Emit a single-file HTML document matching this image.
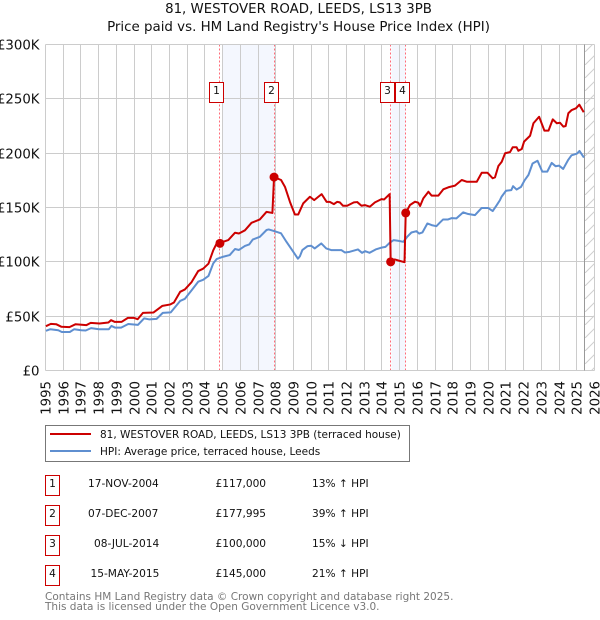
<!DOCTYPE html>
<html>
<head>
<meta charset="utf-8">
<title>81, WESTOVER ROAD, LEEDS, LS13 3PB</title>
<style>
html,body{margin:0;padding:0;background:#fff;width:600px;height:620px;overflow:hidden}
svg{display:block}
text{font-family:"DejaVu Sans","Liberation Sans",sans-serif;fill:#111}
</style>
</head>
<body>
<svg id="chart" xmlns="http://www.w3.org/2000/svg" width="600" height="620" viewBox="0 0 600 620">
  <defs>
    <pattern id="hatch" patternUnits="userSpaceOnUse" width="13" height="13">
      <path d="M-1 14L14 -1" stroke="#cfcfcf" stroke-width="1" fill="none"/>
    </pattern>
    <clipPath id="plot-clip"><rect x="45" y="44" width="550" height="327"/></clipPath>
  </defs>
  <text x="298.5" y="13" font-size="13.35" text-anchor="middle">81, WESTOVER ROAD, LEEDS, LS13 3PB</text>
  <text x="298.5" y="31" font-size="13.4" text-anchor="middle">Price paid vs. HM Land Registry's House Price Index (HPI)</text>
  <g id="bands"></g>
  <g id="grid"></g>
  <g id="xticks"></g>
  <g id="yticks"></g>
  <rect x="584.5" y="44.5" width="10" height="326" fill="url(#hatch)"/>
  <line x1="584.5" x2="584.5" y1="44.5" y2="370.5" stroke="#999" stroke-width="1"/>
  <g id="series" clip-path="url(#plot-clip)"></g>
  <g id="sales"></g>

  <g>
    <rect x="45.5" y="425.5" width="364" height="36" fill="#fff" stroke="#777" stroke-width="1"/>
    <line x1="50" x2="91" y1="434" y2="434" stroke="#cc0000" stroke-width="2"/>
    <text x="100" y="438" font-size="10.5">81, WESTOVER ROAD, LEEDS, LS13 3PB (terraced house)</text>
    <line x1="50" x2="91" y1="451" y2="451" stroke="#5f8fd0" stroke-width="2"/>
    <text x="100" y="455" font-size="10.5">HPI: Average price, terraced house, Leeds</text>
  </g>

  <g>
    <g>
      <rect x="45.5" y="475.5" width="14" height="20" fill="#fff" stroke="#cc0000"/>
      <text x="52.5" y="487" font-size="10.6" text-anchor="middle">1</text>
      <text x="88" y="487" font-size="10.6">17-NOV-2004</text>
      <text x="215.5" y="487" font-size="10.6">£117,000</text>
      <text x="312" y="487" font-size="10.6">13% ↑ HPI</text>
    </g>
    <g>
      <rect x="45.5" y="505.5" width="14" height="20" fill="#fff" stroke="#cc0000"/>
      <text x="52.5" y="517" font-size="10.6" text-anchor="middle">2</text>
      <text x="88" y="517" font-size="10.6">07-DEC-2007</text>
      <text x="215.5" y="517" font-size="10.6">£177,995</text>
      <text x="312" y="517" font-size="10.6">39% ↑ HPI</text>
    </g>
    <g>
      <rect x="45.5" y="535.5" width="14" height="20" fill="#fff" stroke="#cc0000"/>
      <text x="52.5" y="547" font-size="10.6" text-anchor="middle">3</text>
      <text x="94" y="547" font-size="10.6">08-JUL-2014</text>
      <text x="215.5" y="547" font-size="10.6">£100,000</text>
      <text x="312" y="547" font-size="10.6">15% ↓ HPI</text>
    </g>
    <g>
      <rect x="45.5" y="565.5" width="14" height="20" fill="#fff" stroke="#cc0000"/>
      <text x="52.5" y="577" font-size="10.6" text-anchor="middle">4</text>
      <text x="90.5" y="577" font-size="10.6">15-MAY-2015</text>
      <text x="215.5" y="577" font-size="10.6">£145,000</text>
      <text x="312" y="577" font-size="10.6">21% ↑ HPI</text>
    </g>
  </g>

  <text x="45" y="600" font-size="10.5" style="fill:#777">Contains HM Land Registry data © Crown copyright and database right 2025.</text>
  <text x="45" y="610" font-size="10.5" style="fill:#777">This data is licensed under the Open Government Licence v3.0.</text>
</svg>
<script>
const xTickYears = [1995,1996,1997,1998,1999,2000,2001,2002,2003,2004,2005,2006,2007,2008,2009,2010,2011,2012,2013,2014,2015,2016,2017,2018,2019,2020,2021,2022,2023,2024,2025,2026];
const yTickValues = [0,50,100,150,200,250,300];
const yTickLabels = ["£0","£50K","£100K","£150K","£200K","£250K","£300K"];

const hpiYears = [1995.05,1995.3,1995.75,1995.95,1996.4,1996.65,1997.05,1997.3,1997.6,1998.05,1998.6,1998.75,1998.95,1999.3,1999.7,2000.25,2000.6,2000.9,2001.3,2001.65,2002.1,2002.63,2002.9,2003.28,2003.65,2003.93,2004.23,2004.5,2004.69,2005.06,2005.43,2005.73,2005.95,2006.29,2006.53,2006.73,2007.13,2007.51,2007.63,2007.96,2008.33,2008.63,2009.03,2009.28,2009.39,2009.53,2009.83,2010.03,2010.23,2010.6,2010.88,2011.16,2011.73,2011.93,2012.2,2012.67,2012.9,2013.08,2013.33,2013.67,2014.03,2014.23,2014.46,2014.69,2014.93,2015.23,2015.45,2015.69,2015.97,2016.13,2016.31,2016.59,2016.83,2017.1,2017.29,2017.48,2017.76,2017.95,2018.23,2018.61,2018.9,2019.28,2019.65,2020.03,2020.28,2020.5,2020.69,2020.78,2021.03,2021.33,2021.43,2021.63,2021.88,2022.08,2022.3,2022.53,2022.81,2023.08,2023.36,2023.61,2023.83,2024.03,2024.26,2024.53,2024.73,2025.03,2025.18,2025.43];
const hpiValues = [36.5,38,37,35.4,35.4,38,37,36.8,39,38,38,41,39.5,39.5,42.8,42,48,47,47.5,53,53.5,64,66,73.8,81.7,83.5,87,98.6,102.5,104.7,106.2,111.8,110.9,114.6,116,120.5,123,129.3,129.8,128.2,126.2,118.5,109,102.9,105,110.8,114.5,114.8,112.3,116.9,112.3,110.8,110.8,108.6,109.2,111.4,108.3,109.8,108.3,111.4,113.2,113.8,117.5,120,119.4,118.4,123,127,128.2,126,127,135.3,133.8,132.8,136,139,139,140.2,140,145.5,144,143,149.5,149.5,146.7,152,156.8,159.9,165.4,166,169.6,166.5,169,175,180,190.5,193,183,183,191,188,188.5,185.5,193.5,198,199.5,202,196];

const paidYears = [1995.05,1995.33,1995.63,1995.93,1996.38,1996.73,1997.33,1997.58,1998.08,1998.58,1998.73,1998.93,1999.33,1999.68,2000.03,2000.23,2000.53,2001.13,2001.63,2002.08,2002.28,2002.63,2002.9,2003.28,2003.65,2003.93,2004.23,2004.5,2004.69,2004.877,2005.06,2005.35,2005.73,2005.95,2006.29,2006.66,2007.13,2007.51,2007.84,2007.934,2008.33,2008.55,2008.83,2009.11,2009.3,2009.58,2009.96,2010.2,2010.62,2010.9,2011.08,2011.31,2011.5,2011.65,2011.83,2012.06,2012.44,2012.63,2012.87,2013.06,2013.34,2013.63,2014,2014.15,2014.46,2014.518,2014.75,2015,2015.3,2015.368,2015.61,2015.89,2016.08,2016.18,2016.36,2016.65,2016.83,2017.21,2017.49,2017.78,2018.15,2018.53,2018.81,2019.38,2019.66,2019.98,2020.28,2020.41,2020.6,2020.79,2020.98,2021.26,2021.41,2021.63,2021.73,2021.92,2022.05,2022.39,2022.58,2022.9,2023.2,2023.43,2023.67,2023.9,2024.08,2024.27,2024.4,2024.55,2024.74,2024.98,2025.17,2025.42];
const paidValues = [40.8,42.9,42.6,40.2,39.9,42.6,41.7,43.8,43.2,44.2,46.3,44.8,44.8,48.4,48.4,47.2,53,53.4,59.5,60.8,62.6,72.4,74.6,81.4,91.5,93.7,98.3,110.6,116.8,117,118.4,120,126.8,126.1,129,135.9,139,146,145,177.995,175.3,169,155.2,143.6,143.6,153.8,159.9,156.8,162.3,155.2,155.2,153.1,155.2,154.7,151.6,151.6,154.7,155,151.6,152.2,150.7,154.7,157.7,157.4,162.3,100,102.2,101,99.7,145,152.3,155.3,154.4,151.4,158.4,164.5,160.9,160.9,166.7,168.6,170.1,175.3,173.7,173.7,182,182,176.9,177.8,188.2,192.1,199.9,201,205.4,205.4,202.2,203.8,210.6,216,227.5,233.5,220.7,220.7,231.1,227.5,228,224.4,225,236.7,239.7,241.3,244.6,237.6];

const saleYears = [2004.877,2007.934,2014.518,2015.368];
const saleValues = [117,177.995,100,145];
const saleBadges = ["1","2","3","4"];
const bandStartYears = [2005,2014.518];
const bandEndYears = [2007.934,2015.368];

const NS = "http://www.w3.org/2000/svg";
function xScale(year){ return 45 + (year - 1995) * 17.71; }
function yScale(value){ return 370.5 - value * 1.0867; }
function snap(p){ return Math.floor(p) + 0.5; }
function make(tag, parent, attrs){
  const el = document.createElementNS(NS, tag);
  for (const k in attrs) el.setAttribute(k, attrs[k]);
  parent.appendChild(el);
  return el;
}

const bandsG = document.getElementById("bands");
const gridG = document.getElementById("grid");
const xTicksG = document.getElementById("xticks");
const yTicksG = document.getElementById("yticks");
const seriesG = document.getElementById("series");
const salesG = document.getElementById("sales");

bandStartYears.forEach(function(start, i){
  const x0 = snap(xScale(start) + 0.5);
  const x1 = snap(xScale(bandEndYears[i]));
  const band = make("rect", bandsG, {x:x0, y:44.5, width:x1-x0, height:326, fill:"#f4f7fe"});
  
  
});

xTickYears.forEach(function(year){
  const p = snap(xScale(year) + 0.5);
  const line = make("line", gridG, {x1:p, x2:p, y1:44.5, y2:370.5, stroke:"#cccccc", "stroke-width":1});
  
  
  const label = make("text", xTicksG, {transform:"translate(" + (p + 4.8) + ",381) rotate(-90)", "font-size":13.3, "text-anchor":"end"});
  label.textContent = String(year);
  
  
});

yTickValues.forEach(function(value, i){
  const p = snap(yScale(value));
  const line = make("line", gridG, {x1:45.5, x2:594.5, y1:p, y2:p, stroke:"#cccccc", "stroke-width":1});
  
  
  const label = make("text", yTicksG, {x:39.5, y:p + 4.8, "font-size":13.3, "text-anchor":"end"});
  label.textContent = yTickLabels[i];
  
  
});

function pathFrom(years, values){
  return years.map(function(y, i){
    return (i ? "L" : "M") + xScale(y).toFixed(2) + " " + yScale(values[i]).toFixed(2);
  }).join("");
}
const hpiLine = make("path", seriesG, {d:pathFrom(hpiYears, hpiValues), fill:"none", stroke:"#5f8fd0", "stroke-width":2, "stroke-linejoin":"round"});


const paidLine = make("path", seriesG, {d:pathFrom(paidYears, paidValues), fill:"none", stroke:"#cc0000", "stroke-width":2, "stroke-linejoin":"round"});



saleYears.forEach(function(year, i){
  const px = xScale(year);
  const vx = snap(px - 0.01);
  const vline = make("line", bandsG, {x1:vx, x2:vx, y1:44.5, y2:370.5, stroke:"#ff6b78", "stroke-width":1, "stroke-dasharray":"2 2"});
  
  
  const dot = make("circle", salesG, {cx:px, cy:yScale(saleValues[i]), r:4.5, fill:"#cc0000"});
  
  
  const box = make("rect", salesG, {x:vx - 10, y:82.5, width:14, height:20, fill:"#fff", stroke:"#cc0000", "stroke-width":1});
  
  
  const num = make("text", salesG, {x:vx - 3, y:94, "font-size":10.6, "text-anchor":"middle"});
  num.textContent = saleBadges[i];
  
  
});
</script>
</body>
</html>
